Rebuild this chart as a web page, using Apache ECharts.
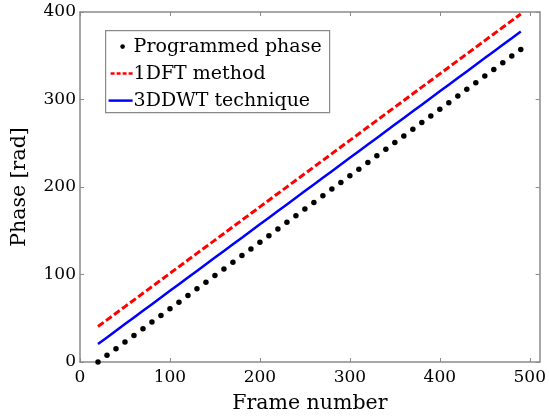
<!DOCTYPE html>
<html>
<head>
<meta charset="utf-8">
<script src="https://cdn.jsdelivr.net/npm/echarts@6/dist/echarts.min.js"></script>
<style>
html, body { margin: 0; padding: 0; background: #fff; }
#chart { width: 549px; height: 420px; }
</style>
</head>
<body>
<div id="chart"></div>
<script>
// Frame numbers at which the phase was sampled
const frames = [20, 30, 40, 50, 60, 70, 80, 90, 100, 110, 120, 130, 140, 150, 160, 170,
  180, 190, 200, 210, 220, 230, 240, 250, 260, 270, 280, 290, 300, 310, 320, 330,
  340, 350, 360, 370, 380, 390, 400, 410, 420, 430, 440, 450, 460, 470, 480, 490];

// Programmed phase [rad]
const programmedPhase = [0, 7.6, 15.2, 22.8, 30.4, 38, 45.6, 53.2, 60.8, 68.4, 76, 83.6,
  91.2, 98.8, 106.4, 114, 121.6, 129.2, 136.8, 144.4, 152, 159.6, 167.2, 174.8,
  182.4, 190, 197.6, 205.2, 212.8, 220.4, 228, 235.6, 243.2, 250.8, 258.4, 266,
  273.6, 281.2, 288.8, 296.4, 304, 311.6, 319.2, 326.8, 334.4, 342, 349.6, 357.2];

// Phase recovered with the 1DFT method [rad]
const dftPhase = [40.5, 48.1, 55.7, 63.3, 70.9, 78.5, 86.1, 93.7, 101.3, 108.9, 116.5, 124.1,
  131.7, 139.3, 146.9, 154.5, 162.1, 169.7, 177.3, 184.9, 192.5, 200.1, 207.7, 215.3,
  222.9, 230.5, 238.1, 245.7, 253.3, 260.9, 268.5, 276.1, 283.7, 291.3, 298.9, 306.5,
  314.1, 321.7, 329.3, 336.9, 344.5, 352.1, 359.7, 367.3, 374.9, 382.5, 390.1, 397.7];

// Phase recovered with the 3DDWT technique [rad]
const dwtPhase = [20.5, 28.1, 35.7, 43.3, 50.9, 58.5, 66.1, 73.7, 81.3, 88.9, 96.5, 104.1,
  111.7, 119.3, 126.9, 134.5, 142.1, 149.7, 157.3, 164.9, 172.5, 180.1, 187.7, 195.3,
  202.9, 210.5, 218.1, 225.7, 233.3, 240.9, 248.5, 256.1, 263.7, 271.3, 278.9, 286.5,
  294.1, 301.7, 309.3, 316.9, 324.5, 332.1, 339.7, 347.3, 354.9, 362.5, 370.1, 377.7];

const seriesNames = ['Programmed phase', '1DFT method', '3DDWT technique'];
const xTicks = [0, 100, 200, 300, 400, 500];
const yTicks = [0, 100, 200, 300, 400];

const FONT = 'DejaVu Serif';
const AXIS_GREY = '#8a8a8a';

const pairs = (ys) => frames.map((f, i) => [f, ys[i]]);

const chart = echarts.init(document.getElementById('chart'), null, { renderer: 'canvas' });

const GRID = { left: 80, right: 8, top: 12, bottom: 58 };

const baseAxis = {
  axisLine: { show: true, onZero: false, lineStyle: { color: AXIS_GREY, width: 1.5 } },
  axisTick: { show: true, inside: true, length: 4, lineStyle: { color: AXIS_GREY, width: 1 } },
  splitLine: { show: false }
};

const option = {
  backgroundColor: '#ffffff',
  animation: false,
  grid: Object.assign({ containLabel: false }, GRID),
  xAxis: [
    Object.assign({}, baseAxis, {
      type: 'value', min: 0, max: 511, interval: 100, position: 'bottom',
      axisLabel: {
        color: '#000', fontFamily: FONT, fontSize: 17, margin: 7,
        customValues: xTicks
      },
      axisTick: Object.assign({}, baseAxis.axisTick, { customValues: xTicks }),
      name: 'Frame number', nameLocation: 'middle', nameGap: 31,
      nameTextStyle: { color: '#000', fontFamily: FONT, fontSize: 20.5 }
    }),
    Object.assign({}, baseAxis, {
      type: 'value', min: 0, max: 511, interval: 100, position: 'top',
      axisLabel: { show: false },
      axisTick: Object.assign({}, baseAxis.axisTick, { customValues: xTicks })
    })
  ],
  yAxis: [
    Object.assign({}, baseAxis, {
      type: 'value', min: 0, max: 400, interval: 100, position: 'left',
      axisLabel: { color: '#000', fontFamily: FONT, fontSize: 17, margin: 4, customValues: yTicks },
      axisTick: Object.assign({}, baseAxis.axisTick, { customValues: yTicks }),
      name: 'Phase [rad]', nameLocation: 'middle', nameGap: 50,
      nameTextStyle: { color: '#000', fontFamily: FONT, fontSize: 20.5 }
    }),
    Object.assign({}, baseAxis, {
      type: 'value', min: 0, max: 400, interval: 100, position: 'right',
      axisLabel: { show: false },
      axisTick: Object.assign({}, baseAxis.axisTick, { customValues: yTicks })
    })
  ],
  series: [
    {
      name: seriesNames[0], type: 'scatter', data: pairs(programmedPhase),
      symbol: 'circle', symbolSize: 5.5,
      itemStyle: { color: '#000', opacity: 1 }, z: 3
    },
    {
      name: seriesNames[1], type: 'line', data: pairs(dftPhase),
      showSymbol: false, symbol: 'none',
      lineStyle: { color: '#ff0000', width: 3, type: [7, 3] }, z: 2
    },
    {
      name: seriesNames[2], type: 'line', data: pairs(dwtPhase),
      showSymbol: false, symbol: 'none',
      lineStyle: { color: '#0000ff', width: 2.5 }, z: 2
    }
  ],
  graphic: [
    {
      type: 'group', left: 105, top: 30,
      children: [
        { type: 'rect', shape: { x: 0, y: 0, width: 224, height: 82 },
          style: { fill: '#fff', stroke: AXIS_GREY, lineWidth: 1.2 } },
        { type: 'circle', shape: { cx: 17, cy: 16, r: 2.3 }, style: { fill: '#000' } },
        { type: 'line', shape: { x1: 5, y1: 43, x2: 27, y2: 43 },
          style: { stroke: '#ff0000', lineWidth: 2.5, lineDash: [4, 2] } },
        { type: 'line', shape: { x1: 3, y1: 70, x2: 27, y2: 70 },
          style: { stroke: '#0000ff', lineWidth: 2.5 } },
        { type: 'text', x: 28, y: 16,
          style: { text: seriesNames[0], fontFamily: FONT, fontSize: 19, fill: '#000', verticalAlign: 'middle' } },
        { type: 'text', x: 28, y: 43,
          style: { text: seriesNames[1], fontFamily: FONT, fontSize: 19, fill: '#000', verticalAlign: 'middle' } },
        { type: 'text', x: 28, y: 70,
          style: { text: seriesNames[2], fontFamily: FONT, fontSize: 19, fill: '#000', verticalAlign: 'middle' } }
      ]
    }
  ]
};

chart.setOption(option);
</script>
</body>
</html>
